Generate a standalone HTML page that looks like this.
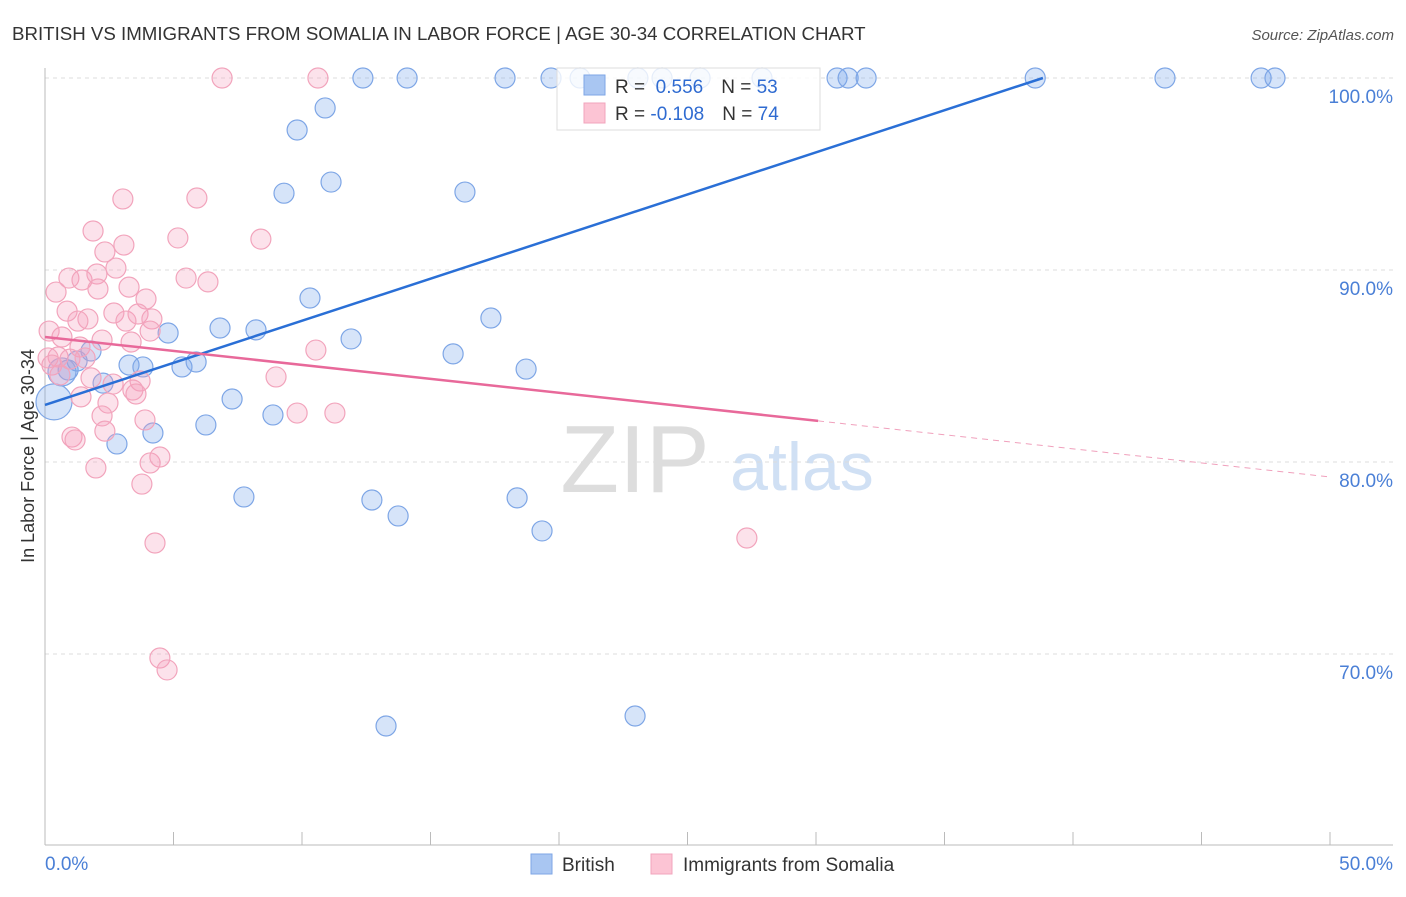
<!DOCTYPE html>
<html><head><meta charset="utf-8"><style>
body{margin:0;background:#fff;font-family:"Liberation Sans",sans-serif}
svg text{font-family:"Liberation Sans",sans-serif}
</style></head><body>
<svg id="chart" width="1406" height="892" xmlns="http://www.w3.org/2000/svg">
<text x="12" y="40" font-size="18.7" fill="#333">BRITISH VS IMMIGRANTS FROM SOMALIA IN LABOR FORCE | AGE 30-34 CORRELATION CHART</text>
<text x="1394" y="40" font-size="15" fill="#555" text-anchor="end" font-style="italic">Source: ZipAtlas.com</text>
<text transform="translate(34,456) rotate(-90)" font-size="18" fill="#333" text-anchor="middle">In Labor Force | Age 30-34</text>
<g>
<text x="635" y="492" font-size="96" fill="#ddd" text-anchor="middle" font-family="Liberation Serif">ZIP</text>
<text x="802" y="490" font-size="68" fill="#d0e0f4" text-anchor="middle">atlas</text>
</g>
<g id="grid"></g><g id="axes"></g><g id="pts"></g><g id="lines"></g>
<g>
<rect x="557" y="68" width="263" height="62" fill="rgba(255,255,255,0.8)" stroke="#ddd"/>
<rect x="584" y="75" width="21" height="20" fill="#a9c6f2" stroke="#7ea6e6"/>
<rect x="584" y="103" width="21" height="20" fill="#fcc4d4" stroke="#f2a4bc"/>
<text x="615" y="93" font-size="19" fill="#333">R = <tspan fill="#2f6bd1">&#160;0.556</tspan><tspan dx="18">N = </tspan><tspan fill="#2f6bd1">53</tspan></text>
<text x="615" y="120" font-size="19" fill="#333">R = <tspan fill="#2f6bd1">-0.108</tspan><tspan dx="18">N = </tspan><tspan fill="#2f6bd1">74</tspan></text>
</g>
<g>
<rect x="531" y="854" width="21" height="20" fill="#a9c6f2" stroke="#7ea6e6"/>
<text x="562" y="871" font-size="19" fill="#333">British</text>
<rect x="651" y="854" width="21" height="20" fill="#fcc4d4" stroke="#f2a4bc"/>
<text x="683" y="871" font-size="19" fill="#333">Immigrants from Somalia</text>
</g>
</svg>
<script>
const xTicks=[0,5,10,15,20,25,30,35,40,45,50];
const yTicks=[70,80,90,100];
const blueX=[12.37,14.09,17.9,19.69,20.82,23.07,24.01,25.49,27.9,30.82,31.25,31.95,38.53,43.58,47.32,47.86,9.81,10.9,9.3,11.13,16.34,10.31,17.35,6.81,8.21,4.79,11.91,1.79,15.88,0.9,3.27,3.81,5.33,5.88,18.72,2.26,0.35,7.28,8.87,6.26,4.2,2.8,7.74,12.72,18.37,13.74,19.34,13.27,22.96,1.25,0.66];
const blueY=[100,100,100,100,100,100,100,100,100,100,100,100,100,100,100,100,97.29,98.44,94.0,94.58,94.06,88.54,87.5,86.98,86.88,86.72,86.41,85.78,85.63,84.79,85.05,84.95,84.95,85.21,84.84,84.11,83.13,83.28,82.45,81.93,81.51,80.94,78.18,78.02,78.13,77.19,76.41,66.25,66.77,85.26,84.69];
const blueR=[10,10,10,10,10,10,10,10,10,10,10,10,10,10,10,10,10,10,10,10,10,10,10,10,10,10,10,10,10,10,10,10,10,10,10,10,18,10,10,10,10,10,10,10,10,10,10,10,10,10,14];
const pinkX=[6.89,10.62,3.03,5.91,1.87,5.17,8.4,3.07,2.33,2.76,0.93,1.44,2.02,5.49,6.34,0.43,2.06,3.27,3.93,0.86,1.67,1.28,2.68,3.15,3.62,4.16,0.16,0.66,4.09,3.35,2.22,1.36,10.54,0.51,0.12,0.97,1.56,0.27,0.58,1.79,8.99,2.65,3.7,3.42,3.54,1.4,2.45,9.81,11.28,2.22,3.89,2.33,1.05,1.17,4.09,4.47,1.98,3.77,4.28,4.47,4.75,27.31];
const pinkY=[100,100,93.7,93.75,92.03,91.67,91.61,91.3,90.94,90.1,89.58,89.48,89.79,89.58,89.38,88.85,89.01,89.11,88.49,87.86,87.45,87.34,87.76,87.34,87.71,87.45,86.82,86.51,86.82,86.25,86.35,85.99,85.83,85.47,85.42,85.36,85.42,85.05,84.53,84.38,84.43,84.06,84.22,83.75,83.54,83.39,83.07,82.55,82.55,82.4,82.19,81.61,81.3,81.15,79.95,80.26,79.69,78.85,75.78,69.79,69.17,76.04];
const blueLine=[[0,82.97],[38.83,100]];
const pinkLine=[[0,86.51],[30.08,82.14]];
const pinkDash=[[30.08,82.14],[50,79.22]];
const X=v=>45+v/50*1285, Y=v=>78+(100-v)*19.2;
const NS='http://www.w3.org/2000/svg';
function mk(p,t,a){const e=document.createElementNS(NS,t);for(const k in a)e.setAttribute(k,a[k]);p.appendChild(e);return e;}
const g=document.getElementById('grid'),ax=document.getElementById('axes'),pts=document.getElementById('pts'),ln=document.getElementById('lines');
yTicks.forEach(v=>{
 const l=mk(g,'line',{x1:45,x2:1393,y1:Y(v),y2:Y(v),stroke:'#ddd','stroke-dasharray':'4,4'});
 
 
 const t=mk(g,'text',{x:1393,y:Y(v)+25,'font-size':19,fill:'#4a7fd6','text-anchor':'end'});
 t.textContent=v.toFixed(1)+'%';
 
 
});
const ya=mk(ax,'line',{x1:45,x2:45,y1:68,y2:845,stroke:'#bbb'});


const xa=mk(ax,'line',{x1:45,x2:1393,y1:845,y2:845,stroke:'#bbb'});


xTicks.forEach(v=>{
 const t=mk(ax,'line',{x1:X(v),x2:X(v),y1:832,y2:845,stroke:'#bbb'});
 
 
});
[[0,'start',45],[50,'end',1393]].forEach(([v,a,x])=>{
 const t=mk(ax,'text',{x:x,y:870,'font-size':19,fill:'#4a7fd6','text-anchor':a});
 t.textContent=v.toFixed(1)+'%';
 
 
});
blueX.forEach((v,i)=>{
 const c=mk(pts,'circle',{cx:X(v),cy:Y(blueY[i]),r:blueR[i],fill:'rgba(120,165,235,0.3)',stroke:'#7ea6e6','stroke-width':1.2});
 
 
});
pinkX.forEach((v,i)=>{
 const c=mk(pts,'circle',{cx:X(v),cy:Y(pinkY[i]),r:10,fill:'rgba(245,160,190,0.3)',stroke:'#f2a4bc','stroke-width':1.2});
 
 
});
const bl=mk(ln,'line',{x1:X(blueLine[0][0]),y1:Y(blueLine[0][1]),x2:X(blueLine[1][0]),y2:Y(blueLine[1][1]),stroke:'#2a6fd6','stroke-width':2.5});


const pl=mk(ln,'line',{x1:X(pinkLine[0][0]),y1:Y(pinkLine[0][1]),x2:X(pinkLine[1][0]),y2:Y(pinkLine[1][1]),stroke:'#e8699a','stroke-width':2.5});


const pd=mk(ln,'line',{x1:X(pinkDash[0][0]),y1:Y(pinkDash[0][1]),x2:X(pinkDash[1][0]),y2:Y(pinkDash[1][1]),stroke:'#f0a0bc','stroke-width':1,'stroke-dasharray':'6,5'});


</script>
</body></html>
